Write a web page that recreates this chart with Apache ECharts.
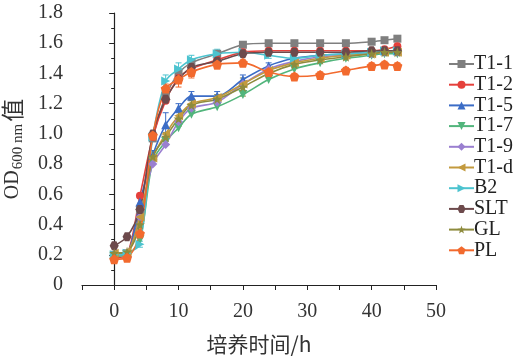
<!DOCTYPE html>
<html><head><meta charset="utf-8">
<script src="https://cdn.jsdelivr.net/npm/echarts@6/dist/echarts.min.js"></script>
<style>html,body{margin:0;padding:0;background:#fff}#c{width:516px;height:358px}</style>
</head><body><div id="c"></div>
<script>
const times = [0,2,4,6,8,10,12,16,20,24,28,32,36,40,42,44];
const names = ['T1-1','T1-2','T1-5','T1-7','T1-9','T1-d','B2','SLT','GL','PL'];
const vT11 = [0.20,0.21,0.50,0.97,1.25,1.40,1.47,1.53,1.59,1.60,1.60,1.60,1.60,1.61,1.62,1.63];
const vT12 = [0.18,0.20,0.59,0.98,1.22,1.37,1.43,1.49,1.54,1.55,1.55,1.55,1.55,1.55,1.56,1.58];
const vT15 = [0.20,0.21,0.55,0.86,1.06,1.17,1.25,1.25,1.36,1.45,1.50,1.52,1.53,1.54,1.55,1.55];
const vT17 = [0.19,0.20,0.30,0.82,0.95,1.04,1.13,1.18,1.26,1.36,1.43,1.47,1.50,1.52,1.53,1.53];
const vT19 = [0.20,0.21,0.45,0.80,0.93,1.08,1.17,1.21,1.33,1.43,1.48,1.51,1.52,1.53,1.54,1.54];
const vT1d = [0.21,0.22,0.45,0.84,1.00,1.12,1.20,1.24,1.33,1.42,1.47,1.50,1.52,1.53,1.54,1.54];
const vB2  = [0.20,0.21,0.27,0.98,1.35,1.43,1.49,1.53,1.54,1.52,1.50,1.52,1.53,1.54,1.55,1.55];
const vSLT = [0.26,0.32,0.50,1.00,1.23,1.36,1.44,1.48,1.53,1.54,1.54,1.54,1.54,1.55,1.55,1.55];
const vGL  = [0.21,0.22,0.40,0.85,0.98,1.10,1.19,1.23,1.31,1.40,1.46,1.49,1.51,1.53,1.54,1.54];
const vPL  = [0.17,0.18,0.34,0.99,1.30,1.36,1.41,1.46,1.47,1.41,1.38,1.39,1.42,1.45,1.46,1.45];
// error bar half-widths (few visible ones)
const errT15 = [0,0,0.03,0.03,0.08,0.03,0.03,0.03,0.03,0.02,0.02,0.02,0.02,0.02,0.02,0.02];
const errPL  = [0,0,0.03,0.03,0.03,0.05,0.04,0.03,0.02,0.02,0.02,0.02,0.02,0.02,0.02,0.02];
const errGL  = [0,0,0.02,0.03,0.03,0.05,0.03,0.03,0.06,0.02,0.02,0.02,0.02,0.02,0.02,0.02];
const errB2  = [0,0,0.02,0.03,0.04,0.04,0.03,0.03,0.02,0.02,0.02,0.02,0.02,0.02,0.02,0.02];
const xTicks = [0,10,20,30,40,50];

const values = [vT11,vT12,vT15,vT17,vT19,vT1d,vB2,vSLT,vGL,vPL];
const colors = ['#7f7f7f','#e5403b','#3b6cc6','#52b57c','#9a7fd0','#c39a3e','#4cc3cf','#6d4a4c','#8e8b3d','#f26a2e'];
const pent = 'path://M0,-10 L9.51,-3.09 L5.88,8.09 L-5.88,8.09 L-9.51,-3.09 Z';
const hexa = 'path://M-5,-8.66 L5,-8.66 L10,0 L5,8.66 L-5,8.66 L-10,0 Z';
const star = 'path://M0,-10 L2.35,-3.24 L9.51,-3.09 L3.8,1.24 L5.88,8.09 L0,4 L-5.88,8.09 L-3.8,1.24 L-9.51,-3.09 L-2.35,-3.24 Z';
const symbols = ['rect','circle','triangle','triangle','diamond','triangle','triangle',hexa,star,pent];
const rots = [0,0,0,180,0,90,-90,0,0,0];
const sizes = [8,8,9,9,9,9,9,9,10,10];
const errs = {2: errT15, 9: errPL, 8: errGL, 6: errB2};

const serif = '"Liberation Serif","Times New Roman",serif';
const series = names.map((n,i)=>({
  name:n, type:'line', smooth:0.3, data: times.map((t,j)=>[t, values[i][j]]),
  symbol: symbols[i], symbolRotate: rots[i], symbolSize: sizes[i],
  lineStyle:{width:1.6,color:colors[i]}, itemStyle:{color:colors[i]}, z:3
}));
Object.keys(errs).forEach(k=>{
  const i = +k;
  series.push({
    type:'custom', silent:true, z:2,
    data: times.map((t,j)=>[t, values[i][j], errs[k][j]]),
    renderItem:(params, api)=>{
      const x = api.value(0), y = api.value(1), e = api.value(2);
      if (!e) return null;
      const p1 = api.coord([x, y+e]), p2 = api.coord([x, y-e]);
      const st = {stroke: colors[i], lineWidth:1};
      return {type:'group', children:[
        {type:'line', shape:{x1:p1[0],y1:p1[1],x2:p2[0],y2:p2[1]}, style:st},
        {type:'line', shape:{x1:p1[0]-3,y1:p1[1],x2:p1[0]+3,y2:p1[1]}, style:st},
        {type:'line', shape:{x1:p2[0]-3,y1:p2[1],x2:p2[0]+3,y2:p2[1]}, style:st}
      ]};
    }
  });
});

const chart = echarts.init(document.getElementById('c'), null, {renderer:'canvas'});
chart.setOption({
  animation:false,
  backgroundColor:'#fff',
  grid:{left:82, right:80, top:13, bottom:73, containLabel:false, outerBoundsMode:'none'},
  legend:{
    orient:'vertical', left:443, top:49, data:names,
    itemWidth:25, itemHeight:10, itemGap:0.7,
    textStyle:{fontFamily:serif, fontSize:20, color:'#222', lineHeight:18, padding:[0,0,0,-5]}
  },
  xAxis:{
    type:'value', min:-5, max:50, interval:5,
    name:'培养时间/h', nameLocation:'middle', nameGap:49,
    nameTextStyle:{fontFamily:'"Noto Sans CJK SC",'+serif, fontSize:21, color:'#333'},
    axisLine:{onZero:false, lineStyle:{color:'#222', width:1.2}},
    axisTick:{inside:false, length:5, lineStyle:{color:'#222'}},
    axisLabel:{fontFamily:serif, fontSize:20, color:'#333', margin:17,
      formatter:v=> xTicks.indexOf(v)>=0 ? String(v) : ''},
    splitLine:{show:false}
  },
  yAxis:{
    type:'value', min:0, max:1.8, interval:0.2,
    name:'{a|OD}{b|600 nm}{c|值}', nameLocation:'middle', nameGap:56,
    nameTextStyle:{rich:{
      a:{fontFamily:serif, fontSize:20, color:'#333'},
      b:{fontFamily:serif, fontSize:15, color:'#333', padding:[12,2,0,1]},
      c:{fontFamily:'"Noto Sans CJK SC",serif', fontSize:23, color:'#333'}
    }},
    axisLine:{show:true, lineStyle:{color:'#222', width:1.2}},
    axisTick:{inside:false, length:5, lineStyle:{color:'#222'}},
    minorTick:{show:true, splitNumber:2, length:3, lineStyle:{color:'#222'}},
    axisLabel:{fontFamily:serif, fontSize:20, color:'#333', margin:19,
      formatter:v=> v===0 ? '0' : v.toFixed(1)},
    splitLine:{show:false}
  },
  series
});
</script></body></html>
